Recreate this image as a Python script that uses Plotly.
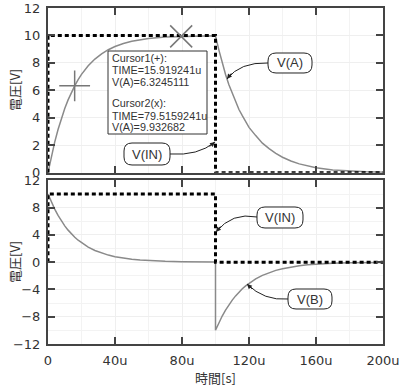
import plotly.graph_objects as go

# ---------------- data (times in microseconds, voltages in V) ----------------
t_rise = [0, 2, 4, 6, 8, 10, 12, 14, 16, 18, 20, 24, 28, 32, 36, 40, 45, 50, 55, 60, 70, 80, 90, 100]
va_rise = [0, 1.18, 2.22, 3.14, 3.95, 4.67, 5.30, 5.85, 6.34, 6.78, 7.16, 7.79, 8.28, 8.66, 8.96, 9.19,
           9.41, 9.57, 9.69, 9.77, 9.88, 9.93, 9.97, 9.98]
vb_rise = [10, 8.82, 7.78, 6.86, 6.05, 5.33, 4.70, 4.15, 3.66, 3.22, 2.84, 2.21, 1.72, 1.34, 1.04, 0.81,
           0.59, 0.43, 0.31, 0.23, 0.12, 0.07, 0.03, 0.02]
t_fall = [100, 102, 104, 106, 108, 110, 112, 114, 116, 118, 120, 124, 128, 132, 136, 140, 145, 150, 155,
          160, 170, 180, 190, 200]
va_fall = [9.98, 8.95, 8.0, 7.15, 6.4, 5.75, 5.15, 4.6, 4.15, 3.7, 3.3, 2.7, 2.15, 1.75, 1.4, 1.12, 0.85,
           0.64, 0.48, 0.36, 0.2, 0.11, 0.06, 0.03]
vb_fall = [-9.98, -8.89, -7.90, -7.03, -6.25, -5.56, -4.94, -4.39, -3.90, -3.47, -3.08, -2.44, -1.93,
           -1.52, -1.20, -0.95, -0.71, -0.53, -0.39, -0.29, -0.16, -0.09, -0.05, -0.03]
t_in = [0, 0, 100, 100, 200]
v_in = [0, 10, 10, 0, 0]
cursor_t = [15.919241, 79.5159241]
cursor_v = [6.3245111, 9.932682]
x_ticks = [0, 40, 80, 120, 160, 200]
x_tick_labels = ["0", "40u", "80u", "120u", "160u", "200u"]

# ---------------- layout geometry (pixels) ----------------
W, H = 400, 388
ML, MR, MT, MB = 48, 17, 8, 44
PW, PH = W - ML - MR, H - MT - MB


def px(x):
    return (x - ML) / PW


def py(y):
    return (H - MB - y) / PH


FONT = "Liberation Sans, Noto Sans CJK JP, sans-serif"
CJK = "Noto Sans CJK JP, sans-serif"
GRAY = "#8a8a8a"
AX = "#444444"

t_a = t_rise + t_fall[1:]
v_a = va_rise + va_fall[1:]
t_b = t_rise + t_fall
v_b = vb_rise + vb_fall

fig = go.Figure()
fig.add_trace(go.Scatter(x=t_a, y=v_a, mode="lines", line=dict(color=GRAY, width=1.5),
                         xaxis="x", yaxis="y", showlegend=False))
fig.add_trace(go.Scatter(x=t_in, y=v_in, mode="lines", line=dict(color="black", width=3, dash="4px,3px"),
                         xaxis="x", yaxis="y", showlegend=False))
fig.add_trace(go.Scatter(x=cursor_t[:1], y=cursor_v[:1], mode="markers",
                         marker=dict(symbol="cross-thin", size=22, line=dict(width=1.5, color="#777")),
                         xaxis="x", yaxis="y", showlegend=False))
fig.add_trace(go.Scatter(x=cursor_t[1:], y=cursor_v[1:], mode="markers",
                         marker=dict(symbol="x-thin", size=22, line=dict(width=1.5, color="#777")),
                         xaxis="x", yaxis="y", showlegend=False))
fig.add_trace(go.Scatter(x=t_b, y=v_b, mode="lines", line=dict(color=GRAY, width=1.5),
                         xaxis="x2", yaxis="y2", showlegend=False))
fig.add_trace(go.Scatter(x=t_in, y=v_in, mode="lines", line=dict(color="black", width=3, dash="4px,3px"),
                         xaxis="x2", yaxis="y2", showlegend=False))

axis_common = dict(showline=True, linecolor=AX, linewidth=2, mirror="ticks", ticks="inside",
                   ticklen=7, tickwidth=1.5, tickcolor=AX, zeroline=False, automargin=False,
                   gridcolor="#efefef", gridwidth=1, ticklabelstandoff=3,
                   tickfont=dict(family="DejaVu Sans, sans-serif", size=13, color="#333"))

fig.update_layout(
    width=W, height=H, margin=dict(l=ML, r=MR, t=MT, b=MB),
    paper_bgcolor="white", plot_bgcolor="white",
    xaxis=dict(axis_common, domain=[0, 1], range=[0, 200], tickvals=x_ticks, showticklabels=False,
               anchor="y", minor=dict(dtick=20, tick0=0, showgrid=True, gridcolor="#f3f3f3", ticks="")),
    yaxis=dict(axis_common, domain=[0.51, 1], range=[0, 12], dtick=2, anchor="x"),
    xaxis2=dict(axis_common, domain=[0, 1], range=[0, 200], tickvals=x_ticks, ticktext=x_tick_labels,
                anchor="y2", minor=dict(dtick=20, tick0=0, showgrid=True, gridcolor="#f3f3f3", ticks="")),
    yaxis2=dict(axis_common, domain=[0, 0.487], range=[-12, 12], dtick=4, anchor="x2",
                minor=dict(dtick=2, showgrid=True, gridcolor="#f3f3f3", ticks="")),
)

shapes = []
annotations = []

# axis titles
annotations.append(dict(xref="paper", yref="paper", x=px(14), y=py(90), text="電圧[V]", textangle=-90,
                        showarrow=False, xanchor="center", yanchor="middle",
                        font=dict(family=CJK, size=13, color="#333")))
annotations.append(dict(xref="paper", yref="paper", x=px(14), y=py(262), text="電圧[V]", textangle=-90,
                        showarrow=False, xanchor="center", yanchor="middle",
                        font=dict(family=CJK, size=13, color="#333")))
annotations.append(dict(xref="paper", yref="paper", x=px(215.5), y=py(377), text="時間[s]",
                        showarrow=False, xanchor="center", yanchor="middle",
                        font=dict(family=CJK, size=13, color="#333")))

# cursor box
shapes.append(dict(type="rect", xref="paper", yref="paper", x0=px(108), x1=px(207), y0=py(51), y1=py(134),
                   line=dict(color="#333", width=1), fillcolor="white", layer="above"))
lines = [
    ("Cursor1(+):", 58),
    ("TIME=%.6fu" % cursor_t[0], 70),
    ("V(A)=%.7f" % cursor_v[0], 82),
    ("Cursor2(x):", 103),
    ("TIME=%.7fu" % cursor_t[1], 116),
    ("V(A)=%.6f" % cursor_v[1], 127),
]
for txt, yy in lines:
    annotations.append(dict(xref="paper", yref="paper", x=px(110), y=py(yy), text=txt, showarrow=False,
                            xanchor="left", yanchor="middle",
                            font=dict(family=FONT, size=10.8, color="#333")))


def rounded(x0, y0, x1, y1, r):
    pts = [
        ("M", [(x0 + r, y0)]), ("L", [(x1 - r, y0)]), ("Q", [(x1, y0), (x1, y0 + r)]),
        ("L", [(x1, y1 - r)]), ("Q", [(x1, y1), (x1 - r, y1)]), ("L", [(x0 + r, y1)]),
        ("Q", [(x0, y1), (x0, y1 - r)]), ("L", [(x0, y0 + r)]), ("Q", [(x0, y0), (x0 + r, y0)]),
    ]
    s = ""
    for cmd, ps in pts:
        s += cmd + " " + " ".join("%.5f,%.5f" % (px(a), py(b)) for a, b in ps) + " "
    return s + "Z"


labels = [
    # text, box (x0,y0,x1,y1), start, control, target
    ("V(A)", (268, 53, 312, 73), (268, 63), (240, 62), (227, 79)),
    ("V(IN)", (124, 143, 170, 165), (170, 154), (198, 156), (215, 142)),
    ("V(IN)", (257, 207, 303, 228), (257, 217), (232, 212), (216, 232)),
    ("V(B)", (288, 289, 332, 309), (288, 299), (264, 301), (247, 284)),
]
for txt, (bx0, by0, bx1, by1), s, c, t in labels:
    shapes.append(dict(type="path", xref="paper", yref="paper", path=rounded(bx0, by0, bx1, by1, 8),
                       line=dict(color="#222", width=1), fillcolor="white", layer="above"))
    annotations.append(dict(xref="paper", yref="paper", x=px((bx0 + bx1) / 2), y=py((by0 + by1) / 2),
                            text=txt, showarrow=False, xanchor="center", yanchor="middle",
                            font=dict(family=FONT, size=13, color="#333")))
    shapes.append(dict(type="path", xref="paper", yref="paper",
                       path="M %.5f,%.5f Q %.5f,%.5f %.5f,%.5f" % (px(s[0]), py(s[1]), px(c[0]), py(c[1]),
                                                                  px(t[0]), py(t[1])),
                       line=dict(color="#222", width=1), layer="above"))
    dx, dy = c[0] - t[0], c[1] - t[1]
    n = (dx * dx + dy * dy) ** 0.5
    annotations.append(dict(xref="paper", yref="paper", x=px(t[0]), y=py(t[1]), text="", showarrow=True,
                            ax=dx / n * 9, ay=dy / n * 9, arrowhead=2, arrowsize=1, arrowwidth=1,
                            arrowcolor="#222"))

fig.update_layout(shapes=shapes, annotations=annotations)
fig.write_html("out.html", config={"displayModeBar": False},
               post_script="document.body.style.margin='0';")
